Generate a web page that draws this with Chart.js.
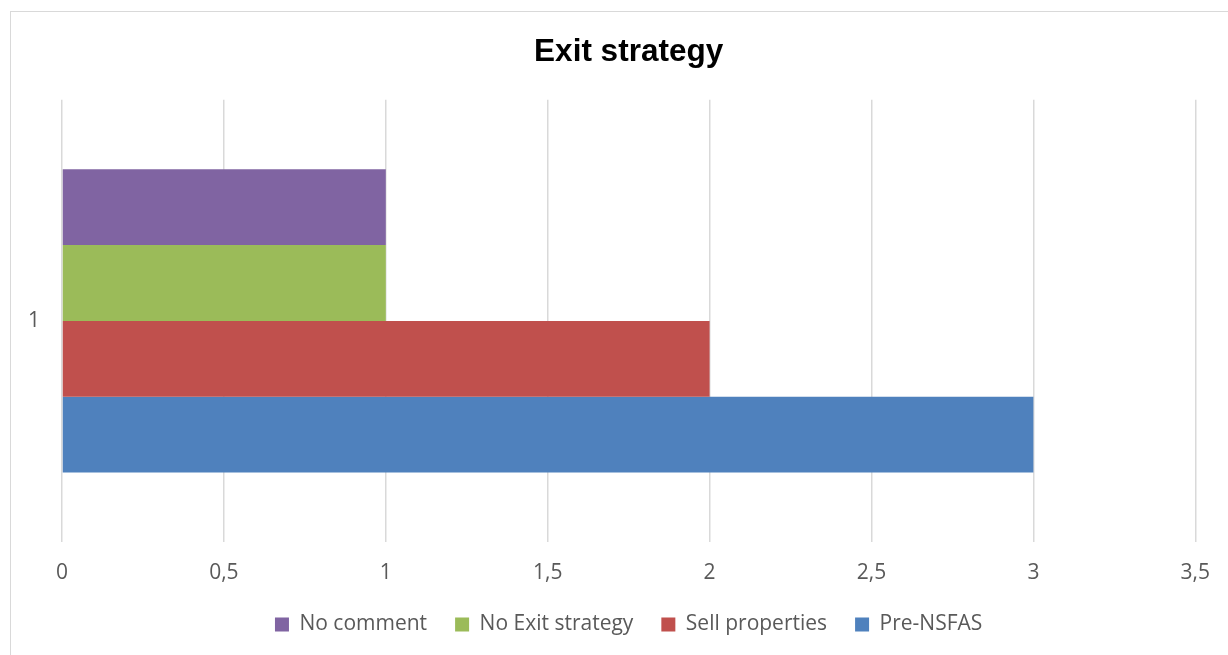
<!DOCTYPE html>
<html>
<head>
<meta charset="utf-8">
<title>Exit strategy</title>
<script src="https://cdn.jsdelivr.net/npm/chart.js@4/dist/chart.umd.min.js"></script>
<style>
    body { margin: 0; background: #ffffff; }
    #moldura {
        position: absolute;
        left: 10px;
        top: 11px;
        width: 1230px;
        height: 660px;
        border: 1px solid #d9d9d9;
    }
    #grafico { position: absolute; left: 0; top: 0; }
</style>
</head>
<body>
<div id="moldura"></div>
<canvas id="grafico" width="1228" height="655"></canvas>
<script>
var categorias = ["1"];
var series = ["No comment", "No Exit strategy", "Sell properties", "Pre-NSFAS"];
var valores = [[1], [1], [2], [3]];
var cores = ["#8064A2", "#9BBB59", "#C0504D", "#4F81BD"];
var ticksX = [0, 0.5, 1, 1.5, 2, 2.5, 3, 3.5];

var datasets = [];
for (var i = 0; i < series.length; i++) {
    datasets.push({
        label: series[i],
        data: valores[i],
        backgroundColor: cores[i],
        borderWidth: 0,
        barPercentage: 1,
        categoryPercentage: 0.686
    });
}

var fonteEixo = { family: "'Open Sans'", size: 21 };

new Chart(document.getElementById("grafico").getContext("2d"), {
    type: "bar",
    data: { labels: categorias, datasets: datasets },
    options: {
        indexAxis: "y",
        responsive: false,
        animation: false,
        layout: { padding: { top: 33, left: 10, right: 29, bottom: 10 } },
        scales: {
            x: {
                min: 0,
                max: 3.5,
                afterBuildTicks: function (scale) {
                    scale.ticks = ticksX.map(function (v) { return { value: v }; });
                },
                afterFit: function (scale) { scale.height = 44; },
                ticks: {
                    color: "#595959",
                    font: fonteEixo,
                    padding: 18,
                    callback: function (v) { return String(v).replace(".", ","); }
                },
                grid: { color: "#d9d9d9", lineWidth: 1.5, drawTicks: false },
                border: { display: false }
            },
            y: {
                afterFit: function (scale) { scale.width = 52; },
                ticks: { color: "#595959", font: fonteEixo, padding: 22 },
                grid: { display: false, drawTicks: false },
                border: { display: false }
            }
        },
        plugins: {
            title: {
                display: true,
                fullSize: false,
                text: "Exit strategy",
                color: "#000000",
                font: { family: "'Liberation Sans', Arial", size: 31.5, weight: "bold" },
                padding: { top: 0, bottom: 29 }
            },
            legend: {
                position: "bottom",
                fullSize: false,
                labels: {
                    color: "#595959",
                    font: fonteEixo,
                    boxWidth: 14,
                    boxHeight: 14,
                    padding: 28
                }
            },
            tooltip: { enabled: false }
        }
    }
});
</script>
</body>
</html>
